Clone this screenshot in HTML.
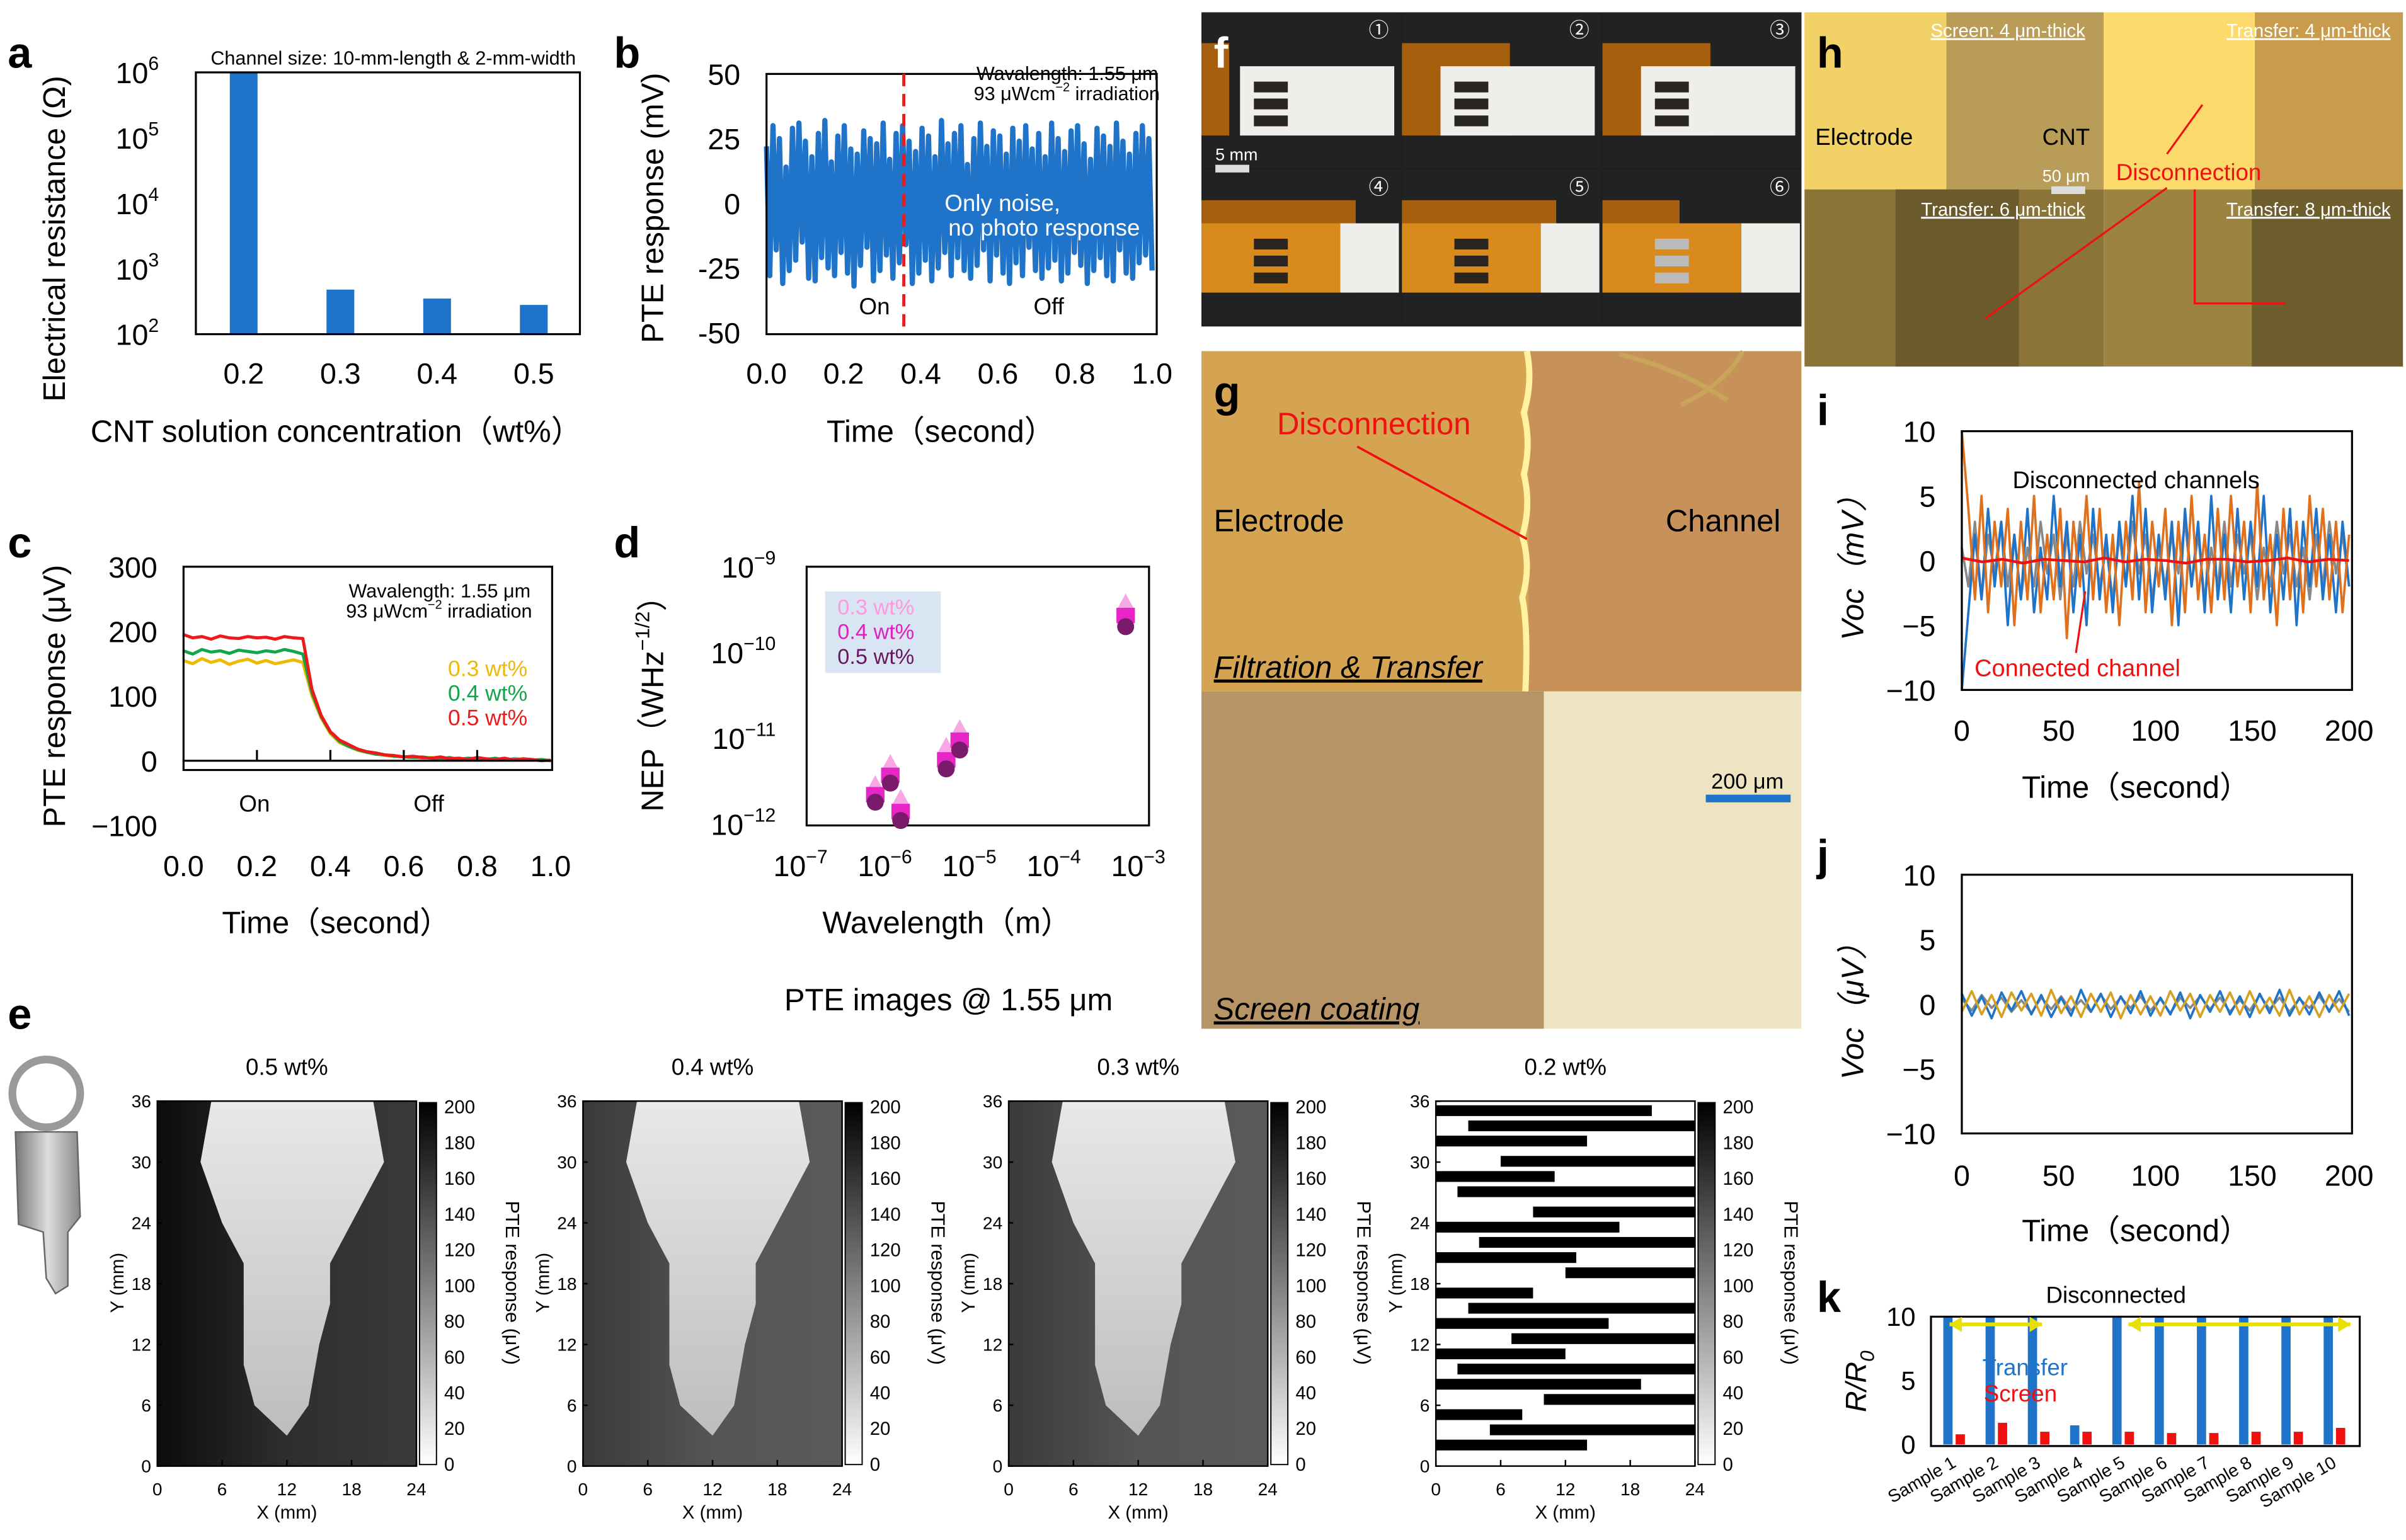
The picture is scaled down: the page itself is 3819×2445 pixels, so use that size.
<!DOCTYPE html>
<html><head><meta charset="utf-8">
<style>
html,body{margin:0;padding:0;background:#fff;}
svg{display:block;font-family:"Liberation Sans","Noto Sans CJK JP",sans-serif;}
</style></head>
<body>
<svg id="fig" width="3819" height="2445" viewBox="0 0 1560 1000" preserveAspectRatio="none" xmlns="http://www.w3.org/2000/svg">
<defs>
<linearGradient id="cbar" x1="0" y1="0" x2="0" y2="1"><stop offset="0" stop-color="#000"/><stop offset="1" stop-color="#fff"/></linearGradient>
<linearGradient id="hmbg" x1="0" y1="0" x2="1" y2="0"><stop offset="0" stop-color="#0c0c0c"/><stop offset="0.5" stop-color="#2e2e2e"/><stop offset="1" stop-color="#3a3a3a"/></linearGradient>
<linearGradient id="hmbg2" x1="0" y1="0" x2="1" y2="0"><stop offset="0" stop-color="#3a3a3a"/><stop offset="0.5" stop-color="#555"/><stop offset="1" stop-color="#5a5a5a"/></linearGradient>
<linearGradient id="keyfill" x1="0" y1="0" x2="0" y2="1"><stop offset="0" stop-color="#e8e8e8"/><stop offset="1" stop-color="#bdbdbd"/></linearGradient>
<linearGradient id="keymetal" x1="0" y1="0" x2="1" y2="0"><stop offset="0" stop-color="#777"/><stop offset="0.5" stop-color="#ddd"/><stop offset="1" stop-color="#888"/></linearGradient>
</defs>
</svg>
<script>
// ---------- data ----------
const aConc=['0.2','0.3','0.4','0.5'];
const aRes=[1e6,480,350,280];
const bNoise=[22,-28,30,-18,25,-31,14,-26,29,-22,31,-15,24,-29,18,-30,27,-21,32,-25,16,-28,26,-19,30,-27,21,-32,19,-24,28,-17,25,-30,23,-26,31,-20,17,-29,27,-23,30,-16,24,-31,20,-27,29,-22,26,-30,18,-25,32,-19,23,-28,27,-21,30,-26,15,-29,25,-24,31,-18,22,-30,28,-20,26,-27,19,-31,29,-23,24,-28,30,-17,21,-26,27,-29,18,-25,31,-22,25,-30,20,-27,28,-19,30,-24,23,-31,17,-26,29,-21,26,-28,22,-30,31,-18,24,-27,19,-29,27,-23,30,-20,25,-26];
const cRed=[195,190,192,188,193,190,189,192,190,191,188,192,190,189,110,70,45,32,25,18,14,12,9,8,6,7,5,4,6,3,4,2,5,3,2,4,1,3,2,0,1];
const cGreen=[170,165,172,168,170,166,171,169,167,170,168,172,169,165,105,68,44,30,22,17,13,10,9,7,6,5,6,4,3,5,2,4,3,2,4,1,3,2,1,2,0];
const cYellow=[155,150,158,152,156,149,154,157,151,155,150,153,156,152,100,66,42,28,22,16,13,11,8,7,6,5,4,5,3,4,3,2,4,2,3,1,2,3,1,2,0];
const dWave=[0.65e-6,0.98e-6,1.3e-6,4.5e-6,6.5e-6,6e-4];
const dNep05=[1.8e-12,3e-12,1.1e-12,4.4e-12,7.3e-12,2e-10];
const dNep04=[2.2e-12,3.7e-12,1.4e-12,5.6e-12,9.5e-12,2.7e-10];
const dNep03=[2.9e-12,5.1e-12,2.0e-12,8.1e-12,1.3e-11,3.8e-10];
const eKeyX=[5,20,21,18,16,16,15,14,12,9,8,8,8,6,4];
const eKeyY=[36,36,30,24,20,16,12,6,3,6,10,14,20,24,30];
const eStripeY=[35,33.5,32,30,28.5,27,25,23.5,22,20.5,19,17,15.5,14,12.5,11,9.5,8,6.5,5,3.5,2];
const eStripeX0=[0,3,0,6,0,2,9,0,4,0,12,0,3,0,7,0,2,0,10,0,5,0];
const eStripeX1=[20,24,14,24,11,24,24,17,24,13,24,9,24,16,24,12,24,19,24,8,24,14];
const iS1=[-10,-4,2,-3,4,-2,3,-5,2,-3,4,-4,1,-3,5,-2,3,-4,2,-5,4,-3,2,-4,3,-2,5,-3,4,-4,2,-3,3,-5,4,-2,3,-4,5,-3,2,-4,4,-3,3,-2,5,-4,2,-3,4,-5,3,-2,4,-3,2,-4,3,-2];
const iS2=[10,4,-3,5,-4,3,-2,4,-5,3,-3,5,-4,2,-3,4,-6,3,-2,5,-3,4,-4,2,-5,3,-3,6,-4,3,-2,4,-5,3,-4,5,-3,2,-4,4,-3,5,-2,3,-4,6,-3,2,-5,4,-3,3,-4,5,-2,4,-3,3,-4,2];
const iS3=[1,-2,3,-3,2,-1,3,-2,2,-3,1,-2,3,-1,2,-3,2,-2,3,-1,2,-2,1,-3,2,-2,3,-1,2,-3,1,-2,2,-1,3,-2,2,-3,1,-2,3,-2,2,-1,2,-3,1,-2,3,-1,2,-2,1,-3,2,-2,3,-1,2,-2];
const iRed=[0.2,-0.1,0.1,-0.2,0.1,0,-0.1,0.2,-0.1,0.1,0,-0.2,0.1,0.1,-0.1,0,0.2,-0.1,0.1,0];
const jS1=[0.8,-0.9,0.6,-1.1,0.9,-0.5,1.0,-0.8,0.7,-1.0,0.5,-0.9,1.1,-0.6,0.8,-1.0,0.6,-0.7,1.0,-0.9,0.5,-0.8,0.9,-1.1,0.7,-0.6,1.0,-0.8,0.6,-1.0,0.8,-0.7,1.1,-0.9,0.5,-0.8,0.9,-0.6,1.0,-0.9];
const jS2=[-0.6,1.0,-0.8,0.7,-1.0,0.9,-0.5,0.8,-0.9,1.1,-0.7,0.6,-1.0,0.8,-0.6,0.9,-1.1,0.7,-0.8,0.6,-0.9,1.0,-0.5,0.8,-1.0,0.7,-0.6,0.9,-0.8,1.0,-0.7,0.5,-0.9,1.1,-0.8,0.6,-1.0,0.7,-0.6,0.8];
const jS3=[0.4,-0.5,0.7,-0.3,0.5,-0.6,0.3,-0.7,0.5,-0.4,0.6,-0.5,0.3,-0.6,0.7,-0.4,0.5,-0.3,0.6,-0.5,0.4,-0.7,0.5,-0.3,0.6,-0.4,0.5,-0.6,0.3,-0.5,0.7,-0.4,0.5,-0.6,0.4,-0.3,0.6,-0.5,0.4,-0.6];
const kSamples=['Sample 1','Sample 2','Sample 3','Sample 4','Sample 5','Sample 6','Sample 7','Sample 8','Sample 9','Sample 10'];
const kTransfer=[10,10,10,1.5,10,10,10,10,10,10];
const kScreen=[0.8,1.7,1.0,1.0,1.0,0.9,0.9,1.0,1.0,1.3];

// ---------- helpers ----------
const NS='http://www.w3.org/2000/svg';
const svg=document.getElementById('fig');
function E(tag,attrs,name,parent){
  const el=document.createElementNS(NS,tag);
  for(const k in attrs) el.setAttribute(k,attrs[k]);
  
  
  (parent||svg).appendChild(el);
  return el;
}
function T(x,y,size,txt,name,opt){
  opt=opt||{};
  const a={x:x,y:y,'font-size':size,fill:opt.fill||'#000','text-anchor':opt.anchor||'start'};
  if(opt.weight) a['font-weight']=opt.weight;
  if(opt.style) a['font-style']=opt.style;
  if(opt.rot!==undefined) a.transform='rotate('+opt.rot+' '+x+' '+y+')';
  if(opt.deco) a['text-decoration']=opt.deco;
  const el=E('text',a,name,opt.parent);
  el.textContent=txt;
  return el;
}
function sup(el,txt,size){
  const s=document.createElementNS(NS,'tspan');
  s.setAttribute('dy',-size*0.45);
  s.setAttribute('font-size',size*0.65);
  s.textContent=txt;
  el.appendChild(s);
  return s;
}
function after(el,txt,size){
  const s=document.createElementNS(NS,'tspan');
  s.setAttribute('dy',size*0.45);
  s.textContent=txt;
  el.appendChild(s);
}
function line(x1,y1,x2,y2,stroke,w,name,extra){
  const a={x1:x1,y1:y1,x2:x2,y2:y2,stroke:stroke,'stroke-width':w};
  if(extra) for(const k in extra) a[k]=extra[k];
  return E('line',a,name);
}
function poly(xs,ys,stroke,w,name){
  let p='';
  for(let i=0;i<xs.length;i++) p+=xs[i].toFixed(2)+','+ys[i].toFixed(2)+' ';
  return E('polyline',{points:p,fill:'none',stroke:stroke,'stroke-width':w,'stroke-linejoin':'round'},name);
}
function box(x,y,w,h,name){return E('rect',{x:x,y:y,width:w,height:h,fill:'none',stroke:'#000','stroke-width':1.3},name);}
function letter(x,y,l){T(x,y,28,l,'panel-label-'+l,{weight:'bold'});}

// ---------- panel a ----------
letter(5,44,'a');
const xa=i=>158+i*62.7;
const ya=v=>217-(Math.log10(v)-2)*42.5;
aConc.forEach((c,i)=>{
  E('rect',{x:xa(i)-9,y:ya(aRes[i]),width:18,height:217-ya(aRes[i]),fill:'#1f74c9'},'bar-'+c);
  T(xa(i),249,19,c,'x-tick-label',{anchor:'middle'});
});
box(127,47,249,170,'plot-area-a');
[2,3,4,5,6].forEach(p=>{const t=T(103,ya(Math.pow(10,p))+7,19,'10','y-tick-label',{anchor:'end'});sup(t,String(p),19);});
T(255,42,12.5,'Channel size: 10-mm-length & 2-mm-width','channel-note',{anchor:'middle'});
T(218,287,20,'CNT solution concentration（wt%）','x-axis-title-a',{anchor:'middle'});
T(42,155,20,'Electrical resistance (Ω)','y-axis-title-a',{anchor:'middle',rot:-90});

// ---------- panel b ----------
letter(398,44,'b');
const xb=t=>497+t*250;
const yb=v=>132-v*1.68;
poly(bNoise.map((v,i)=>xb(i/(bNoise.length-1))),bNoise.map(v=>yb(v)),'#1f74c9',3.4,'noise-line-b');
box(497,48,253,169,'plot-area-b');
line(586,48,586,217,'#e02020',2,'on-off-divider',{'stroke-dasharray':'8,5'});
[50,25,0,-25,-50].forEach(v=>T(480,yb(v)+7,19,String(v),'y-tick-label',{anchor:'end'}));
[0,0.2,0.4,0.6,0.8,1].forEach(v=>T(xb(v),249,19,v.toFixed(1),'x-tick-label',{anchor:'middle'}));
T(567,204,15,'On','on-label',{anchor:'middle'});
T(680,204,15,'Off','off-label',{anchor:'middle'});
T(650,137,15,'Only noise,','noise-note',{anchor:'middle',fill:'#fff'});
T(677,153,15,'no photo response','noise-note-2',{anchor:'middle',fill:'#fff'});
T(751,52,12.5,'Wavalength: 1.55 μm','wavelength-note-b',{anchor:'end'});
{const t=T(752,65,12.5,'93 μWcm','irradiation-note-b',{anchor:'end'});sup(t,'−2',12.5);after(t,' irradiation',12.5);}
T(610,287,20,'Time（second）','x-axis-title-b',{anchor:'middle'});
T(430,135,20,'PTE response (mV)','y-axis-title-b',{anchor:'middle',rot:-90});

// ---------- panel c ----------
letter(5,362,'c');
const xc=t=>119+t*238;
const yc=v=>494-v*0.42;
const cT=cRed.map((v,i)=>i/(cRed.length-1));
poly(cT.map(xc),cYellow.map(yc),'#f0b800',2,'series-0.3wt');
poly(cT.map(xc),cGreen.map(yc),'#12a64a',2,'series-0.4wt');
poly(cT.map(xc),cRed.map(yc),'#f01818',2,'series-0.5wt');
box(119,368,239,132,'plot-area-c');
line(119,494,358,494,'#000',1.3,'zero-line-c');
[0.2,0.4,0.6,0.8].forEach(v=>line(xc(v),494,xc(v),487,'#000',1.3,'tick-c'));
[300,200,100,0,-100].forEach(v=>T(102,yc(v)+7,19,v<0?'−100':String(v),'y-tick-label',{anchor:'end'}));
[0,0.2,0.4,0.6,0.8,1].forEach(v=>T(xc(v),569,19,v.toFixed(1),'x-tick-label',{anchor:'middle'}));
T(342,439,14.5,'0.3 wt%','legend-0.3wt',{anchor:'end',fill:'#f0b800'});
T(342,455,14.5,'0.4 wt%','legend-0.4wt',{anchor:'end',fill:'#12a64a'});
T(342,471,14.5,'0.5 wt%','legend-0.5wt',{anchor:'end',fill:'#f01818'});
T(165,527,15,'On','on-label-c',{anchor:'middle'});
T(278,527,15,'Off','off-label-c',{anchor:'middle'});
T(344,388,12.5,'Wavalength: 1.55 μm','wavelength-note-c',{anchor:'end'});
{const t=T(345,401,12.5,'93 μWcm','irradiation-note-c',{anchor:'end'});sup(t,'−2',12.5);after(t,' irradiation',12.5);}
T(218,606,20,'Time（second）','x-axis-title-c',{anchor:'middle'});
T(42,452,20,'PTE response (μV)','y-axis-title-c',{anchor:'middle',rot:-90});

// ---------- panel d ----------
letter(398,362,'d');
const xd=w=>523+(Math.log10(w)+7)*54.75;
const yd=v=>368+(-9-Math.log10(v))*55.7;
box(523,368,222,168,'plot-area-d');
E('rect',{x:535,y:384,width:75,height:53,fill:'#d9e5f2'},'legend-box-d');
T(543,399,14,'0.3 wt%','legend-0.3wt-d',{fill:'#ff99dd'});
T(543,415,14,'0.4 wt%','legend-0.4wt-d',{fill:'#e020c0'});
T(543,431,14,'0.5 wt%','legend-0.5wt-d',{fill:'#6b1560'});
dWave.forEach((w,i)=>{
  const x=xd(w);
  let y=yd(dNep03[i]);
  E('polygon',{points:(x-6)+','+(y+5)+' '+(x+6)+','+(y+5)+' '+x+','+(y-6),fill:'#f7a8e4'},'point-0.3wt');
  y=yd(dNep04[i]);
  E('rect',{x:x-6,y:y-5,width:12,height:10,fill:'#e826c8'},'point-0.4wt');
  y=yd(dNep05[i]);
  E('circle',{cx:x,cy:y,r:5.5,fill:'#7a1a6a'},'point-0.5wt');
});
[-9,-10,-11,-12].forEach(p=>{const t=T(503,yd(Math.pow(10,p))+7,19,'10','y-tick-label',{anchor:'end'});sup(t,'−'+(-p),19);});
[-7,-6,-5,-4,-3].forEach(p=>{const t=T(xd(Math.pow(10,p))-4,569,19,'10','x-tick-label',{anchor:'middle'});sup(t,'−'+(-p),19);});
T(614,606,20,'Wavelength（m）','x-axis-title-d',{anchor:'middle'});
{const t=T(430,452,20,'NEP（WHz','y-axis-title-d',{anchor:'middle',rot:-90});sup(t,'−1/2',20);after(t,'）',20);}

// ---------- panel e ----------
letter(5,668,'e');
T(615,656,20,'PTE images   @ 1.55 μm','pte-images-title',{anchor:'middle'});
E('circle',{cx:30,cy:710,r:22,fill:'none',stroke:'#999','stroke-width':5},'key-ring');
E('path',{d:'M10,735 L50,735 L52,790 L44,800 L44,835 L36,840 L30,830 L28,800 L12,795 Z',fill:'url(#keymetal)',stroke:'#666','stroke-width':1},'key-photo');
const eTitles=['0.5 wt%','0.4 wt%','0.3 wt%','0.2 wt%'];
const eX=[102,378,654,931];
eTitles.forEach((title,k)=>{
  const ox=eX[k];
  const mx=v=>ox+v*7;
  const my=v=>952-v*6.58;
  if(k<3){
    E('rect',{x:ox,y:715,width:168,height:237,fill:k==0?'url(#hmbg)':'url(#hmbg2)'},'heatmap-bg');
    let p='';
    for(let i=0;i<eKeyX.length;i++) p+=mx(eKeyX[i])+','+my(eKeyY[i])+' ';
    E('polygon',{points:p,fill:'url(#keyfill)'},'key-image');
  } else {
    E('rect',{x:ox,y:715,width:168,height:237,fill:'#fff'},'heatmap-bg');
    for(let i=0;i<eStripeY.length;i++){
      E('rect',{x:mx(eStripeX0[i]),y:my(eStripeY[i])-4,width:(eStripeX1[i]-eStripeX0[i])*7,height:7,fill:'#000'},'noise-stripe');
    }
  }
  E('rect',{x:ox,y:715,width:168,height:237,fill:'none',stroke:'#000','stroke-width':1},'heatmap-frame');
  T(ox+84,698,15,title,'heatmap-title',{anchor:'middle'});
  [0,6,12,18,24,30,36].forEach(v=>{T(ox-4,my(v)+4,11.5,String(v),'y-tick-label',{anchor:'end'});line(ox,my(v),ox+3,my(v),'#000',1,'tick');});
  [0,6,12,18,24].forEach(v=>{T(mx(v),971,11.5,String(v),'x-tick-label',{anchor:'middle'});line(mx(v),952,mx(v),948,'#000',1,'tick');});
  T(ox+84,986,12,'X (mm)','x-axis-title-e',{anchor:'middle'});
  T(ox-22,833,12,'Y (mm)','y-axis-title-e',{anchor:'middle',rot:-90});
  const cx=ox+170;
  E('rect',{x:cx,y:716,width:11,height:235,fill:'url(#cbar)',stroke:'#000','stroke-width':0.8},'colorbar');
  [0,20,40,60,80,100,120,140,160,180,200].forEach(v=>T(cx+16,951-v*1.16+4,12,String(v),'colorbar-tick-label'));
  T(cx+56,833,12.5,'PTE response (μV)','colorbar-title',{anchor:'middle',rot:90});
});

// ---------- panel f (photos) ----------
E('rect',{x:779,y:8,width:389,height:204,fill:'#1d1f21'},'photo-f');
const fNums=['①','②','③','④','⑤','⑥'];
for(let r=0;r<2;r++)for(let c=0;c<3;c++){
  const x=779+c*130,y=8+r*102;
  E('rect',{x:x,y:y,width:129,height:101,fill:'#202224'},'photo-tile');
  const k=r*3+c;
  const orangeW=k==5?20:(k==0?18:70);
  E('rect',{x:x,y:y+20,width:orangeW+(k<3?0:30),height:60,fill:'#a65f0c'},'kapton-film');
  E('rect',{x:x+(k<3?25:90),y:y+35,width:(k<3?100:38),height:45,fill:'#eeeeea'},'paper');
  if(k>=3) E('rect',{x:x,y:y+35,width:90,height:45,fill:'#d88a1c'},'kapton-orange');
  for(let s=0;s<3;s++) E('rect',{x:x+34,y:y+45+s*11,width:22,height:7,fill:k==5?'#bbb':'#2a2520'},'electrode-stripe');
  T(x+115,y+16,13,fNums[k],'photo-number',{anchor:'middle',fill:'#fff'});
}
T(787,44,28,'f','panel-label-f',{weight:'bold',fill:'#fff'});
T(788,104,11,'5 mm','scale-label-f',{fill:'#fff'});
E('rect',{x:788,y:107,width:22,height:5,fill:'#ddd'},'scale-bar-f');

// ---------- panel g ----------
E('rect',{x:779,y:228,width:212,height:221,fill:'#d4a452'},'electrode-region-g');
E('rect',{x:991,y:228,width:177,height:221,fill:'#c7925a'},'channel-region-g');
E('path',{d:'M990,228 q4,20 -2,40 q5,20 0,40 q5,20 -1,40 q6,20 0,40 q4,20 2,61',stroke:'#fff3a0','stroke-width':4,fill:'none'},'boundary-g');
E('rect',{x:779,y:449,width:222,height:219,fill:'#b69466'},'screen-electrode-g');
E('rect',{x:1001,y:449,width:167,height:219,fill:'#efe4c2'},'screen-channel-g');
E('path',{d:'M1050,230 q40,10 70,30 M1130,228 q-10,20 -40,35',stroke:'#c9a55a','stroke-width':3,fill:'none'},'wire-g');
T(787,264,28,'g','panel-label-g',{weight:'bold'});
T(828,282,20,'Disconnection','disconnection-label-g',{fill:'#f01010'});
line(880,290,990,350,'#f01010',1.5,'disconnection-pointer-g');
T(787,345,20,'Electrode','electrode-label-g');
T(1080,345,20,'Channel','channel-label-g');
T(787,440,20,'Filtration & Transfer','filtration-label',{style:'italic',deco:'underline'});
T(787,662,20,'Screen coating','screen-coating-label',{style:'italic',deco:'underline'});
T(1133,512,14,'200 μm','scale-label-g',{anchor:'middle'});
E('rect',{x:1106,y:516,width:55,height:5,fill:'#1f74c9'},'scale-bar-g');

// ---------- panel h ----------
E('rect',{x:1170,y:8,width:194,height:115,fill:'#f2d266'},'h-screen-4um');
E('rect',{x:1262,y:8,width:102,height:115,fill:'#b89c58'},'h-screen-cnt');
E('rect',{x:1364,y:8,width:194,height:115,fill:'#fcdb6c'},'h-transfer-4um');
E('rect',{x:1462,y:8,width:96,height:115,fill:'#c89c4c'},'h-transfer-4um-cnt');
E('rect',{x:1170,y:123,width:194,height:115,fill:'#8a7438'},'h-transfer-6um');
E('rect',{x:1229,y:123,width:80,height:115,fill:'#6b5a2c'},'h-transfer-6um-dark');
E('rect',{x:1364,y:123,width:194,height:115,fill:'#9c8440'},'h-transfer-8um');
E('rect',{x:1460,y:123,width:98,height:115,fill:'#6e5e2e'},'h-transfer-8um-dark');
T(1178,44,28,'h','panel-label-h',{weight:'bold'});
T(1352,24,12,'Screen: 4 μm-thick','h-label-1',{anchor:'end',fill:'#fff',deco:'underline'});
T(1550,24,12,'Transfer: 4 μm-thick','h-label-2',{anchor:'end',fill:'#fff',deco:'underline'});
T(1352,140,12,'Transfer: 6 μm-thick','h-label-3',{anchor:'end',fill:'#fff',deco:'underline'});
T(1550,140,12,'Transfer: 8 μm-thick','h-label-4',{anchor:'end',fill:'#fff',deco:'underline'});
T(1177,94,15,'Electrode','h-electrode-label');
T(1355,94,15,'CNT','h-cnt-label',{anchor:'end'});
T(1355,118,11,'50 μm','h-scale-label',{anchor:'end',fill:'#fff'});
E('rect',{x:1330,y:121,width:22,height:5,fill:'#ddd'},'h-scale-bar');
T(1372,117,15,'Disconnection','h-disconnection-label',{fill:'#f01010'});
line(1428,68,1405,100,'#f01010',1.3,'h-pointer-1');
line(1405,122,1287,207,'#f01010',1.3,'h-pointer-2');
E('polyline',{points:'1423,123 1423,197 1482,197',fill:'none',stroke:'#f01010','stroke-width':1.3},'h-pointer-3');

// ---------- panel i ----------
letter(1178,276,'i');
const xi=t=>1272+t*1.2555;
const yi=v=>364-v*8.4;
const iT=iS1.map((v,i)=>i*200/(iS1.length-1));
poly(iT.map(xi),iS3.map(yi),'#888888',1.5,'series-gray-i');
poly(iT.map(xi),iS1.map(yi),'#1f74c9',1.5,'series-blue-i');
poly(iT.map(xi),iS2.map(yi),'#e0701c',1.5,'series-orange-i');
poly(iRed.map((v,i)=>xi(i*200/(iRed.length-1))),iRed.map(yi),'#f01010',1.8,'series-connected-i');
box(1272,280,253,168,'plot-area-i');
[10,5,0,-5,-10].forEach(v=>T(1255,yi(v)+7,19,v<0?'−'+(-v):String(v),'y-tick-label',{anchor:'end'}));
[0,50,100,150,200].forEach(v=>T(xi(v),481,19,String(v),'x-tick-label',{anchor:'middle'}));
T(1385,317,15.5,'Disconnected channels','disconnected-label-i',{anchor:'middle'});
T(1347,439,15.5,'Connected channel','connected-label-i',{anchor:'middle',fill:'#f01010'});
line(1352,384,1346,424,'#f01010',1.3,'connected-pointer');
T(1385,518,20,'Time（second）','x-axis-title-i',{anchor:'middle'});
T(1208,364,20,'Voc（mV）','y-axis-title-i',{anchor:'middle',rot:-90,style:'italic'});

// ---------- panel j ----------
letter(1178,565,'j');
const xj=t=>1272+t*1.2555;
const yj=v=>652-v*8.4;
const jT=jS1.map((v,i)=>i*200/(jS1.length-1));
poly(jT.map(xj),jS3.map(yj),'#888888',1.5,'series-gray-j');
poly(jT.map(xj),jS1.map(yj),'#1f74c9',1.5,'series-blue-j');
poly(jT.map(xj),jS2.map(yj),'#d8a020',1.5,'series-yellow-j');
box(1272,568,253,168,'plot-area-j');
[10,5,0,-5,-10].forEach(v=>T(1255,yj(v)+7,19,v<0?'−'+(-v):String(v),'y-tick-label',{anchor:'end'}));
[0,50,100,150,200].forEach(v=>T(xj(v),770,19,String(v),'x-tick-label',{anchor:'middle'}));
T(1385,806,20,'Time（second）','x-axis-title-j',{anchor:'middle'});
T(1208,652,20,'Voc（μV）','y-axis-title-j',{anchor:'middle',rot:-90,style:'italic'});

// ---------- panel k ----------
letter(1178,852,'k');
const xk=i=>1263+i*27.4;
const yk=v=>938-v*8.3;
kSamples.forEach((s,i)=>{
  E('rect',{x:xk(i)-3,y:yk(kTransfer[i]),width:6,height:938-yk(kTransfer[i]),fill:'#1f74c9'},'bar-transfer');
  E('rect',{x:xk(i)+5,y:yk(kScreen[i]),width:6,height:938-yk(kScreen[i]),fill:'#f01010'},'bar-screen');
  T(xk(i)+6,952,11.5,s,'sample-label',{anchor:'end',rot:-30});
});
box(1252,855,278,84,'plot-area-k');
[10,5,0].forEach(v=>T(1242,yk(v)+6,17,String(v),'y-tick-label',{anchor:'end'}));
T(1372,846,15,'Disconnected','disconnected-label-k',{anchor:'middle'});
line(1264,860,1324,860,'#e8e000',2.5,'arrow-1');
line(1380,860,1524,860,'#e8e000',2.5,'arrow-2');
[[1264,1],[1324,-1],[1380,1],[1524,-1]].forEach(a=>E('polygon',{points:a[0]+','+860+' '+(a[0]+a[1]*8)+','+855+' '+(a[0]+a[1]*8)+','+865,fill:'#e8e000'},'arrow-head'));
T(1313,893,15,'Transfer','legend-transfer',{anchor:'middle',fill:'#1f74c9'});
T(1310,910,15,'Screen','legend-screen',{anchor:'middle',fill:'#f01010'});
{const t=T(1210,897,19,'R/R','y-axis-title-k',{anchor:'middle',rot:-90,style:'italic'});const s=document.createElementNS(NS,'tspan');s.setAttribute('dy',5);s.setAttribute('font-size',13);s.textContent='0';t.appendChild(s);}
</script>
</body></html>
